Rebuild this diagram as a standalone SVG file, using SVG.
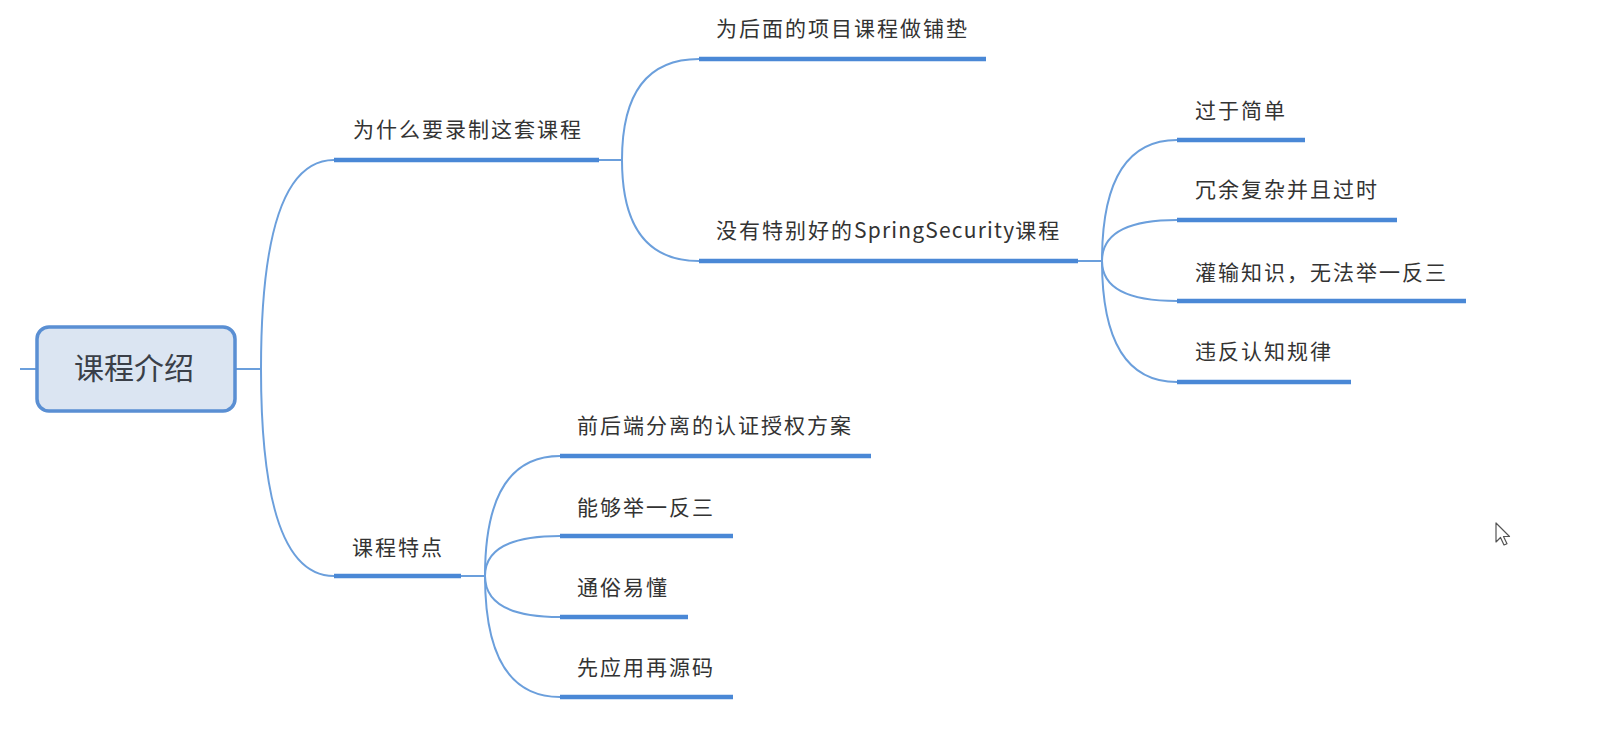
<svg xmlns="http://www.w3.org/2000/svg" width="1605" height="730" viewBox="0 0 1605 730">
<style>
.t{font-family:"Noto Sans CJK SC","Noto Sans",sans-serif;font-size:21px;letter-spacing:2px;fill:#333333}
.lat{letter-spacing:1.2px}
.ul{stroke:#4a88d6;stroke-width:4.5;fill:none}
.cn{stroke:#6b9fdc;stroke-width:2;fill:none}
.root-box{fill:#dbe5f2;stroke:#5a8fd3;stroke-width:3.5}
.root-t{font-family:"Noto Sans CJK SC","Noto Sans",sans-serif;font-size:30px;fill:#3a3f48}
</style>
<rect width="1605" height="730" fill="#ffffff"/>
<g id="connectors">
<line class="cn" x1="20" y1="369" x2="37" y2="369"/>
<line class="cn" x1="235" y1="369" x2="261" y2="369"/>
<path class="cn" d="M261 369 Q261 160 334 160"/>
<path class="cn" d="M261 369 Q261 576 334 576"/>
<line class="cn" x1="599" y1="160" x2="622" y2="160"/>
<path class="cn" d="M622 160 Q622 59 699 59"/>
<path class="cn" d="M622 160 Q622 261 699 261"/>
<line class="cn" x1="1078" y1="261" x2="1102" y2="261"/>
<path class="cn" d="M1102 261 Q1102 140 1177 140"/>
<path class="cn" d="M1102 261 Q1102 220 1177 220"/>
<path class="cn" d="M1102 261 Q1102 301 1177 301"/>
<path class="cn" d="M1102 261 Q1102 382 1177 382"/>
<line class="cn" x1="461" y1="576" x2="485" y2="576"/>
<path class="cn" d="M485 576 Q485 456 560 456"/>
<path class="cn" d="M485 576 Q485 536 560 536"/>
<path class="cn" d="M485 576 Q485 617 560 617"/>
<path class="cn" d="M485 576 Q485 697 560 697"/>
</g>
<g id="root">
<rect class="root-box" x="37" y="327" width="198" height="84" rx="12"/>
<text class="root-t" x="134" y="379" text-anchor="middle">课程介绍</text>
</g>
<g id="n-why">
<line class="ul" x1="334" y1="160" x2="599" y2="160"/>
<text class="t" x="353" y="137">为什么要录制这套课程</text>
</g>
<g id="n-pave">
<line class="ul" x1="699" y1="59" x2="986" y2="59"/>
<text class="t" x="716" y="36">为后面的项目课程做铺垫</text>
</g>
<g id="n-nogood">
<line class="ul" x1="699" y1="261" x2="1078" y2="261"/>
<text class="t" x="716" y="238">没有特别好的<tspan class="lat">SpringSecurity</tspan>课程</text>
</g>
<g id="n-simple">
<line class="ul" x1="1177" y1="140" x2="1305" y2="140"/>
<text class="t" x="1195" y="118">过于简单</text>
</g>
<g id="n-redundant">
<line class="ul" x1="1177" y1="220" x2="1397" y2="220"/>
<text class="t" x="1195" y="197">冗余复杂并且过时</text>
</g>
<g id="n-indoctrinate">
<line class="ul" x1="1177" y1="301" x2="1466" y2="301"/>
<text class="t" x="1195" y="280">灌输知识，无法举一反三</text>
</g>
<g id="n-violate">
<line class="ul" x1="1177" y1="382" x2="1351" y2="382"/>
<text class="t" x="1195" y="359">违反认知规律</text>
</g>
<g id="n-features">
<line class="ul" x1="334" y1="576" x2="461" y2="576"/>
<text class="t" x="352" y="555">课程特点</text>
</g>
<g id="n-separation">
<line class="ul" x1="560" y1="456" x2="871" y2="456"/>
<text class="t" x="577" y="433">前后端分离的认证授权方案</text>
</g>
<g id="n-infer">
<line class="ul" x1="560" y1="536" x2="733" y2="536"/>
<text class="t" x="577" y="515">能够举一反三</text>
</g>
<g id="n-easy">
<line class="ul" x1="560" y1="617" x2="688" y2="617"/>
<text class="t" x="577" y="595">通俗易懂</text>
</g>
<g id="n-apply">
<line class="ul" x1="560" y1="697" x2="733" y2="697"/>
<text class="t" x="577" y="675">先应用再源码</text>
</g>
<path d="M1496 523 L1496 542 L1500.5 537.5 L1504 545 L1507 543.8 L1503.5 536.5 L1509.5 536.5 Z" fill="#ffffff" stroke="#555555" stroke-width="1.2" stroke-linejoin="round"/>
</svg>
